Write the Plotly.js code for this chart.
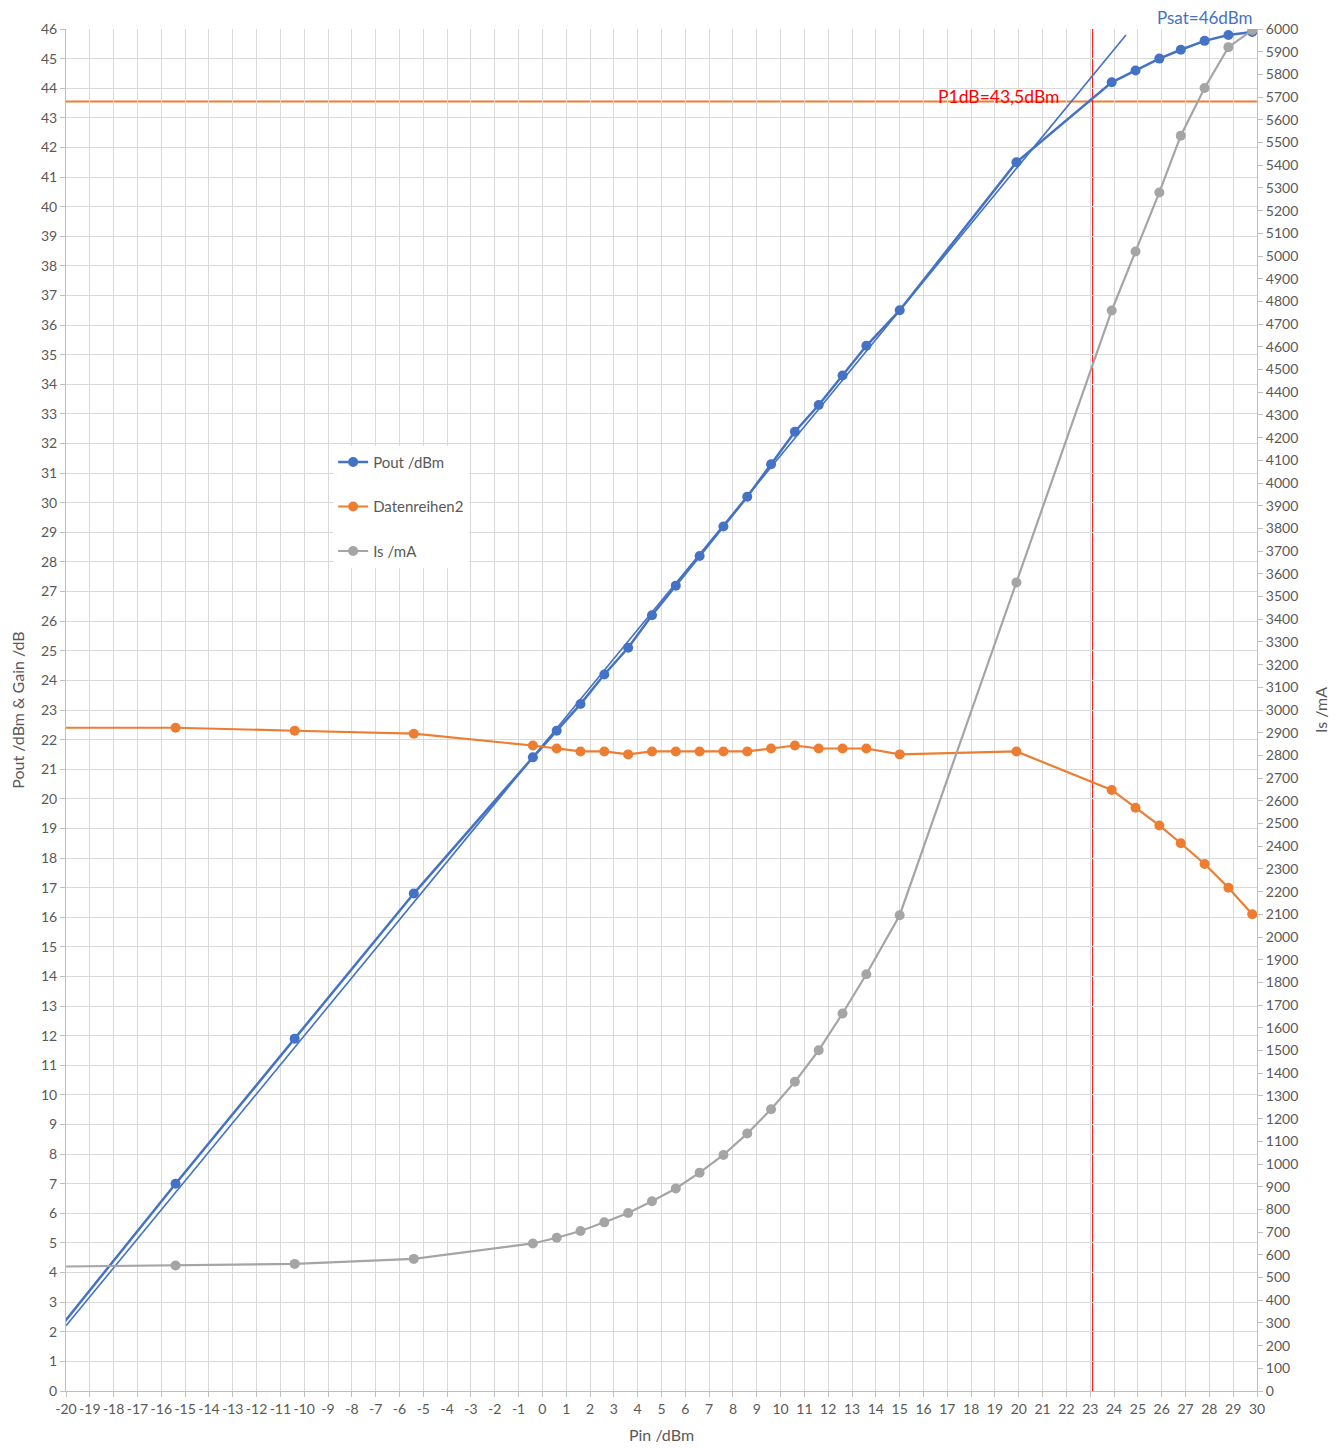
<!DOCTYPE html>
<html>
<head>
<meta charset="utf-8">
<script src="https://cdn.plot.ly/plotly-3.0.1.min.js"></script>
<style>
  html, body { margin: 0; padding: 0; background: #ffffff; }
  #chart { width: 1344px; height: 1448px; }
</style>
</head>
<body>
<div id="chart"></div>
<script>
// ---- data ----
const pin = [-20.4, -15.4, -10.4, -5.4, -0.4, 0.6, 1.6, 2.6, 3.6, 4.6, 5.6, 6.6, 7.6, 8.6, 9.6, 10.6, 11.6, 12.6, 13.6, 15.0, 19.9, 23.9, 24.9, 25.9, 26.8, 27.8, 28.8, 29.8];
const pout = [2.0, 7.0, 11.9, 16.8, 21.4, 22.3, 23.2, 24.2, 25.1, 26.2, 27.2, 28.2, 29.2, 30.2, 31.3, 32.4, 33.3, 34.3, 35.3, 36.5, 41.5, 44.2, 44.6, 45.0, 45.3, 45.6, 45.8, 45.9];
const gain = [22.4, 22.4, 22.3, 22.2, 21.8, 21.7, 21.6, 21.6, 21.5, 21.6, 21.6, 21.6, 21.6, 21.6, 21.7, 21.8, 21.7, 21.7, 21.7, 21.5, 21.6, 20.3, 19.7, 19.1, 18.5, 17.8, 17.0, 16.1];
const isMa = [548, 553, 560, 582, 650, 675, 705, 743, 784, 836, 892, 962, 1040, 1134, 1241, 1362, 1501, 1663, 1836, 2096, 3562, 4760, 5020, 5280, 5530, 5740, 5920, 5995];

// linear (small-signal) extrapolation line
const tangentX = [-20, 24.5];
const tangentY = [2.2, 45.8];

// reference levels
const p1dbLevel = 43.55;
const p1dbPin = 23.1;
const p1dbLabel = "P1dB=43,5dBm";
const psatLabel = "Psat=46dBm";
const psatLabelX = 27.8;
const psatLabelY = 46;
const p1dbLabelX = 19.15;
const p1dbLabelY = 43.72;

// tick labels
const xTickVals = [-20,-19,-18,-17,-16,-15,-14,-13,-12,-11,-10,-9,-8,-7,-6,-5,-4,-3,-2,-1,0,1,2,3,4,5,6,7,8,9,10,11,12,13,14,15,16,17,18,19,20,21,22,23,24,25,26,27,28,29,30];
const xTickText = ["-20","-19","-18","-17","-16","-15","-14","-13","-12","-11","-10","-9","-8","-7","-6","-5","-4","-3","-2","-1","0","1","2","3","4","5","6","7","8","9","10","11","12","13","14","15","16","17","18","19","20","21","22","23","24","25","26","27","28","29","30"];

const names = ["Pout /dBm", "Datenreihen2", "Is /mA"];
const colors = { blue: "#4472C4", orange: "#ED7D31", gray: "#A5A5A5", red: "#FF0000" };

const FONT = "Lato, 'Open Sans', sans-serif";
const TXT = "#595959";

const traces = [
  {
    x: tangentX, y: tangentY, type: "scatter", mode: "lines",
    line: { color: colors.blue, width: 1.6 },
    showlegend: false, hoverinfo: "skip", yaxis: "y"
  },
  {
    x: pin, y: pout, type: "scatter", mode: "lines+markers", name: names[0],
    legendgroup: "a",
    line: { color: colors.blue, width: 2.5 },
    marker: { color: colors.blue, size: 10 },
    yaxis: "y"
  },
  {
    x: pin, y: gain, type: "scatter", mode: "lines+markers", name: names[1],
    legendgroup: "b",
    line: { color: colors.orange, width: 2.2 },
    marker: { color: colors.orange, size: 10 },
    yaxis: "y"
  },
  {
    x: pin, y: isMa, type: "scatter", mode: "lines+markers", name: names[2],
    legendgroup: "c",
    line: { color: colors.gray, width: 2.2 },
    marker: { color: colors.gray, size: 10 },
    yaxis: "y2"
  }
];

const layout = {
  width: 1344, height: 1448,
  margin: { l: 66, r: 87, t: 29, b: 57, pad: 0 },
  paper_bgcolor: "#ffffff", plot_bgcolor: "#ffffff",
  font: { family: FONT, size: 14, color: TXT },
  xaxis: {
    range: [-20, 30], tickmode: "array", tickvals: xTickVals, ticktext: xTickText,
    showgrid: true, gridcolor: "#D9D9D9", gridwidth: 1,
    zeroline: false, showline: true, linecolor: "#BFBFBF", linewidth: 1,
    ticks: "outside", ticklen: 5, tickcolor: "#BFBFBF",
    tickfont: { family: FONT, size: 14, color: TXT },
    title: { text: "Pin /dBm", font: { family: FONT, size: 16, color: TXT }, standoff: 14 },
    automargin: false, fixedrange: true
  },
  yaxis: {
    range: [0, 46], dtick: 1, tick0: 0,
    showgrid: true, gridcolor: "#D9D9D9", gridwidth: 1,
    zeroline: false, showline: true, linecolor: "#BFBFBF", linewidth: 1,
    ticks: "outside", ticklen: 5, tickcolor: "#BFBFBF",
    tickfont: { family: FONT, size: 14, color: TXT },
    title: { text: "Pout /dBm & Gain /dB", font: { family: FONT, size: 16, color: TXT }, standoff: 12 },
    automargin: false, fixedrange: true
  },
  yaxis2: {
    range: [0, 6000], dtick: 100, tick0: 0, overlaying: "y", side: "right",
    showgrid: false, zeroline: false, showline: true, linecolor: "#BFBFBF", linewidth: 1,
    ticks: "outside", ticklen: 5, tickcolor: "#BFBFBF",
    tickfont: { family: FONT, size: 14, color: TXT },
    title: { text: "Is /mA", font: { family: FONT, size: 16, color: TXT }, standoff: 18 },
    automargin: false, fixedrange: true
  },
  legend: {
    x: 0.2243, y: 0.6940, xanchor: "left", yanchor: "top",
    bgcolor: "#ffffff", borderwidth: 0,
    font: { family: FONT, size: 15, color: TXT },
    traceorder: "grouped", tracegroupgap: 22
  },
  shapes: [
    {
      type: "line", xref: "paper", x0: 0, x1: 1, yref: "y", y0: p1dbLevel, y1: p1dbLevel,
      line: { color: colors.orange, width: 2 }, layer: "between"
    },
    {
      type: "line", xref: "x", x0: p1dbPin, x1: p1dbPin, yref: "paper", y0: 0, y1: 1,
      line: { color: colors.red, width: 1 }, layer: "between"
    }
  ],
  annotations: [
    {
      x: p1dbLabelX, y: p1dbLabelY, xref: "x", yref: "y", text: p1dbLabel, showarrow: false,
      font: { family: FONT, size: 17.5, color: colors.red }
    },
    {
      x: psatLabelX, y: psatLabelY, xref: "x", yref: "y", yshift: 12, text: psatLabel, showarrow: false,
      font: { family: FONT, size: 17, color: colors.blue }
    }
  ]
};

Plotly.newPlot("chart", traces, layout, { displayModeBar: false, staticPlot: true });
</script>
</body>
</html>
